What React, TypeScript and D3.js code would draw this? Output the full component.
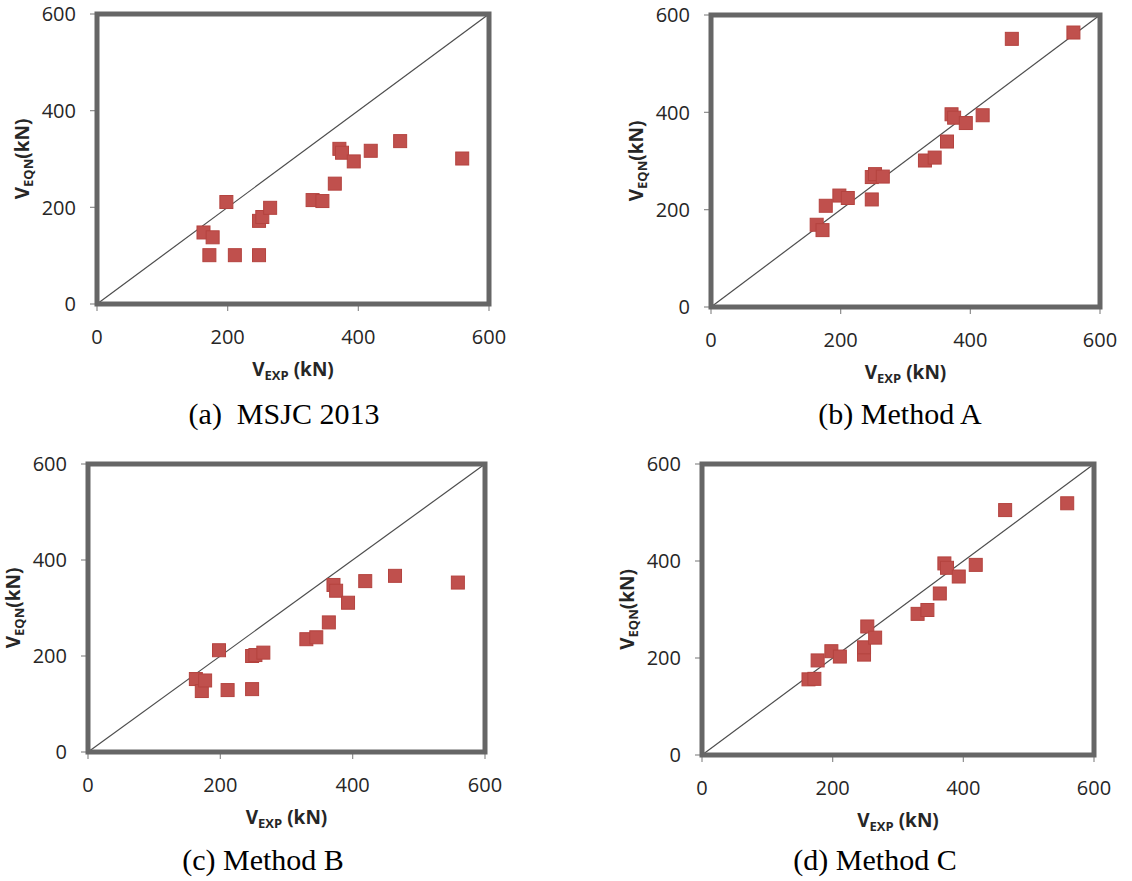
import React from "react";
import * as d3 from "d3";

// Experimental shear strength (kN), shared by all four panels
const vExp = [163, 172, 177, 198, 211, 248, 248, 253, 265, 330, 345, 364, 371, 375, 393, 419, 464, 559];
// Predicted shear strength for each method (kN)
const vMsjc = [148, 101, 138, 211, 101, 101, 172, 180, 199, 215, 213, 249, 321, 313, 295, 317, 337, 301];
const vMethodA = [169, 158, 208, 229, 224, 221, 267, 273, 268, 301, 307, 340, 396, 389, 378, 394, 551, 564];
const vMethodB = [152, 127, 149, 212, 129, 131, 200, 202, 207, 235, 239, 270, 348, 336, 311, 356, 367, 353];
const vMethodC = [156, 157, 195, 214, 203, 207, 222, 265, 242, 291, 299, 333, 395, 386, 368, 392, 505, 519];

const tickValues = [0, 200, 400, 600];
const captions = ["(a)  MSJC 2013", "(b) Method A", "(c) Method B", "(d) Method C"];
const seriesList = [vMsjc, vMethodA, vMethodB, vMethodC];

const layouts = [
  { left: 97, right: 489, top: 14, bottom: 304, capX: 284, capY: 424 },
  { left: 711, right: 1100, top: 15, bottom: 307, capX: 900, capY: 424 },
  { left: 88, right: 485, top: 464, bottom: 752, capX: 263, capY: 870 },
  { left: 702, right: 1094, top: 464, bottom: 755, capX: 875, capY: 870 },
];

const sansFont = "'Open Sans', 'DejaVu Sans', sans-serif";
const serifFont = "'Liberation Serif', 'DejaVu Serif', serif";

function Panel({ idx }: { idx: number }) {
  const L = layouts[idx];
  const ys = seriesList[idx];
  const x = d3.scaleLinear().domain([0, 600]).range([L.left, L.right]);
  const y = d3.scaleLinear().domain([0, 600]).range([L.bottom, L.top]);
  const sz = 13;
  const cx = (L.left + L.right) / 2;
  const cy = (L.top + L.bottom) / 2;
  return (
    <g>
      {/* ticks */}
      {tickValues.map((t) => (
        <g key={"yt" + t}>
          <line x1={L.left - 7} x2={L.left} y1={y(t)} y2={y(t)} stroke="#8c8c8c" strokeWidth={1.2} />
          <text x={L.left - 21} y={y(t)} dy="0.36em" textAnchor="end" fontFamily={sansFont} fontSize={20} fill="#262626">
            {t}
          </text>
        </g>
      ))}
      {tickValues.map((t) => (
        <g key={"xt" + t}>
          <line x1={x(t)} x2={x(t)} y1={L.bottom} y2={L.bottom + 7} stroke="#8c8c8c" strokeWidth={1.2} />
          <text x={x(t)} y={L.bottom + 40} textAnchor="middle" fontFamily={sansFont} fontSize={20} fill="#262626">
            {t}
          </text>
        </g>
      ))}
      {/* diagonal */}
      <line x1={x(0)} y1={y(0)} x2={x(600)} y2={y(600)} stroke="#4d4d4d" strokeWidth={1.2} />
      {/* points */}
      {vExp.map((v, i) => (
        <rect
          key={i}
          x={x(v) - sz / 2}
          y={y(ys[i]) - sz / 2}
          width={sz}
          height={sz}
          fill="#C0504D"
          stroke="#B4433F"
          strokeWidth={1}
        />
      ))}
      {/* frame */}
      <rect
        x={L.left}
        y={L.top}
        width={L.right - L.left}
        height={L.bottom - L.top}
        fill="none"
        stroke="#666666"
        strokeWidth={5}
      />
      {/* x title */}
      <text x={cx} y={L.bottom + 72} textAnchor="middle" fontFamily={sansFont} fontWeight="bold" fontSize={19} fill="#262626">
        V<tspan fontSize={13} dy={4}>EXP</tspan>
        <tspan dy={-4}> (kN)</tspan>
      </text>
      {/* y title */}
      <text
        transform={`translate(${L.left - 68},${cy}) rotate(-90)`}
        textAnchor="middle"
        fontFamily={sansFont}
        fontWeight="bold"
        fontSize={19}
        fill="#262626"
      >
        V<tspan fontSize={13} dy={4}>EQN</tspan>
        <tspan dy={-4}>(kN)</tspan>
      </text>
      {/* caption */}
      <text x={L.capX} y={L.capY} textAnchor="middle" fontFamily={serifFont} fontSize={30} fill="#000" style={{ whiteSpace: "pre" }}>
        {captions[idx]}
      </text>
    </g>
  );
}

export default function App() {
  return (
    <svg
      width={1132}
      height={881}
      style={{ position: "absolute", left: 0, top: 0, background: "#fff" }}
    >
      <rect x={0} y={0} width={1132} height={881} fill="#fff" />
      {[0, 1, 2, 3].map((i) => (
        <Panel key={i} idx={i} />
      ))}
    </svg>
  );
}
